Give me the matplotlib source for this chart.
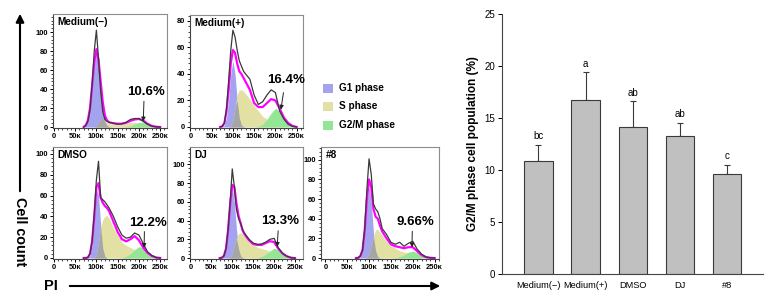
import numpy as np
import matplotlib
matplotlib.use('Agg')
import matplotlib.pyplot as plt
from matplotlib.ticker import MultipleLocator
from matplotlib.patches import FancyArrowPatch, Rectangle

plt.rcParams['font.family'] = ['Liberation Sans', 'DejaVu Sans']

# PI channel grid (x1000)
xs = [70, 75, 80, 85, 90, 95, 100, 105, 110, 115, 120, 125, 130,
      140, 150, 160, 170, 180, 190, 200, 210, 220, 230, 240, 250]

# Medium(-)
g1_med_neg = [0, 1.7, 6.9, 20, 44, 69, 81, 69, 44, 20, 6.9, 1.7, 0.3, 0, 0, 0, 0, 0, 0, 0, 0, 0, 0, 0, 0]
s_med_neg = [0, 0, 0, 0, 0, 0, 1, 5, 9, 9, 6, 4.5, 3.5, 3, 3, 3, 4, 5, 5, 4, 2, 0.5, 0, 0, 0]
g2_med_neg = [0, 0, 0, 0, 0, 0, 0, 0, 0, 0, 0, 0, 0, 0, 0, 0, 0.3, 1, 3, 5, 5, 3, 1, 0.2, 0]
fit_med_neg = [0, 2, 7, 20, 44, 69, 82, 71, 48, 26, 12, 7, 5, 4, 3.5, 3.5, 4.5, 6.5, 8, 8.5, 7, 3.5, 1.2, 0.3, 0]
raw_med_neg = [0, 1.5, 6, 18, 45, 80, 102, 72, 38, 16, 8, 6, 5, 4, 3, 3.5, 5, 8, 9, 9, 6, 3, 1, 0.3, 0]

# Medium(+)
g1_med_pos = [0, 0.2, 1.5, 7, 20, 40, 50, 40, 20, 7, 1.5, 0.2, 0, 0, 0, 0, 0, 0, 0, 0, 0, 0, 0, 0, 0]
s_med_pos = [0, 0, 0, 0, 0, 1, 5, 15, 24, 28, 28, 27, 25, 21, 16, 12, 8, 6, 4.5, 3, 1, 0, 0, 0, 0]
g2_med_pos = [0, 0, 0, 0, 0, 0, 0, 0, 0, 0, 0, 0, 0, 0, 0, 0.5, 2, 5.5, 10.5, 14, 12, 6.5, 2.5, 0.6, 0]
fit_med_pos = [0, 0.5, 3, 12, 28, 48, 58, 56, 48, 42, 40, 37, 34, 28, 18, 15, 15, 18, 21, 20, 14, 7, 3, 0.8, 0]
raw_med_pos = [0, 0.5, 3, 14, 35, 58, 73, 68, 58, 50, 46, 42, 40, 36, 24, 17, 19, 24, 28, 26, 12, 6, 2, 0.5, 0]

# DMSO
g1_dmso = [0, 0, 0.2, 2.2, 12.4, 38, 65, 61, 32, 9.2, 1.5, 0, 0, 0, 0, 0, 0, 0, 0, 0, 0, 0, 0, 0, 0]
s_dmso = [0, 0, 0, 0, 0, 0, 3, 15, 30, 37, 40, 41, 38, 29, 22, 15, 12, 10, 8, 6, 3, 1, 0, 0, 0]
g2_dmso = [0, 0, 0, 0, 0, 0, 0, 0, 0, 0, 0, 0, 0, 0, 0, 0.3, 1.5, 4, 8, 11, 9.5, 5, 2, 0.4, 0]
fit_dmso = [0, 0, 0.5, 4, 16, 40, 68, 72, 58, 53, 50, 48, 45, 35, 25, 18, 16, 18, 21, 17, 10, 5, 2, 0.4, 0]
raw_dmso = [0, 0, 0.5, 4, 16, 42, 75, 93, 58, 56, 54, 51, 48, 40, 30, 22, 19, 20, 24, 22, 14, 6, 2.5, 0.5, 0]

# DJ
g1_dj = [0, 0.3, 2.2, 10, 31, 60, 75, 60, 31, 10, 2.2, 0.3, 0, 0, 0, 0, 0, 0, 0, 0, 0, 0, 0, 0, 0]
s_dj = [0, 0, 0, 0, 0, 0.5, 5, 14, 21, 26, 27, 26, 24, 20, 15, 11.5, 10, 9, 7, 5, 2, 0.5, 0, 0, 0]
g2_dj = [0, 0, 0, 0, 0, 0, 0, 0, 0, 0, 0, 0, 0, 0, 0, 0.3, 1.5, 4, 7.5, 10.5, 9, 5, 2, 0.4, 0]
fit_dj = [0, 0.4, 2.5, 10, 30, 58, 78, 76, 58, 45, 37, 29, 25, 19, 15, 14, 14, 16, 18, 17, 10, 5, 2, 0.4, 0]
raw_dj = [0, 0.3, 2, 10, 30, 60, 95, 76, 52, 42, 37, 30, 26, 20, 16, 14.5, 15, 17, 20, 21, 11, 5, 2, 0.5, 0]

# #8
g1_n8 = [0, 0.1, 1.2, 7.4, 26, 57, 73, 57, 26, 7.4, 1.2, 0.1, 0, 0, 0, 0, 0, 0, 0, 0, 0, 0, 0, 0, 0]
s_n8 = [0, 0, 0, 0, 0, 0.5, 5, 14, 22, 29, 29, 26, 23, 17, 13, 10, 7.5, 6, 5.5, 4, 1.5, 0, 0, 0, 0]
g2_n8 = [0, 0, 0, 0, 0, 0, 0, 0, 0, 0, 0, 0, 0, 0, 0, 0.3, 1.2, 3, 5.8, 7, 5.5, 2.5, 0.8, 0.2, 0]
fit_n8 = [0, 0.2, 2, 8, 28, 60, 80, 72, 50, 42, 40, 33, 27, 20, 14, 12, 11, 10, 11, 11, 7, 3, 1, 0.2, 0]
raw_n8 = [0, 0.2, 2, 8, 30, 70, 101, 85, 55, 50, 47, 40, 30, 24, 16, 14, 16, 12, 15, 17, 9, 4, 1, 0.3, 0]

panel_names = ['Medium(\u2212)', 'Medium(+)', 'DMSO', 'DJ', '#8']
g2m_labels = ['10.6%', '16.4%', '12.2%', '13.3%', '9.66%']

# bar chart
groups = ['Medium(\u2212)', 'Medium(+)', 'DMSO', 'DJ', '#8']
means = [10.9, 16.7, 14.1, 13.3, 9.6]
errs = [1.5, 2.7, 2.5, 1.25, 0.9]
letters = ['bc', 'a', 'ab', 'ab', 'c']

W, H = 772, 304
fig = plt.figure(figsize=(W / 100, H / 100), dpi=100)


def px_axes(l, t, r, b):
    return fig.add_axes([l / W, 1 - b / H, (r - l) / W, (b - t) / H])


def fpt(x, y):
    return (x / W, 1 - y / H)


panels = [
    (g1_med_neg, s_med_neg, g2_med_neg, fit_med_neg, raw_med_neg),
    (g1_med_pos, s_med_pos, g2_med_pos, fit_med_pos, raw_med_pos),
    (g1_dmso, s_dmso, g2_dmso, fit_dmso, raw_dmso),
    (g1_dj, s_dj, g2_dj, fit_dj, raw_dj),
    (g1_n8, s_n8, g2_n8, fit_n8, raw_n8),
]

# layout: axes rect in pixels, xlim, ylim, y max tick, text pos, arrow tail, arrow head
layout = [
    ((53, 14, 167, 128), (-2, 266), (-1, 119), 100, (217, 37), (212, 30), (210, 3)),
    ((190, 15, 303, 128), (-1, 265), (-0.8, 84.5), 80, (224, 35.5), (220, 28), (212, 11)),
    ((53, 147, 167, 259), (-2, 266), (-1, 106.7), 100, (222, 34), (213, 28), (212, 7)),
    ((190, 147, 303, 259), (-1, 269), (-1, 118.4), 100, (214, 39), (210, 32), (207, 9)),
    ((321, 147, 439, 259), (-10, 260), (-1, 113), 100, (207, 37), (199, 30), (198, 8)),
]

c_g1 = '#a3a3f0'
c_s = '#e3e0a4'
c_g2 = '#93e693'
c_ov = '#a6a6a6'

x = np.array(xs)
for (g1, s, g2, fit, raw), lay, name, lab in zip(panels, layout, panel_names, g2m_labels):
    rect, xl, yl, ymax, tpos, tail, head = lay
    ax = px_axes(*rect)
    g1 = np.array(g1)
    s = np.array(s)
    ax.fill_between(x, 0, g1, color=c_g1, lw=0)
    ax.fill_between(x, 0, s, color=c_s, lw=0)
    ax.fill_between(x, 0, np.minimum(g1, s), color=c_ov, lw=0)
    ax.fill_between(x, 0, g2, color=c_g2, lw=0)
    ax.plot(x, fit, color='#ff00ff', lw=1.6)
    ax.plot(x, raw, color='#3a3a3a', lw=0.9)
    ax.set_xlim(*xl)
    ax.set_ylim(*yl)
    ax.set_xticks([0, 50, 100, 150, 200, 250])
    ax.set_xticklabels(['0', '50\u1d0b', '100\u1d0b', '150\u1d0b', '200\u1d0b', '250\u1d0b'])
    ax.set_yticks(np.arange(0, ymax + 1, 20))
    ax.xaxis.set_minor_locator(MultipleLocator(10))
    ax.yaxis.set_minor_locator(MultipleLocator(4))
    ax.tick_params(which='major', length=2.5, width=0.7, pad=1, labelsize=5.4)
    ax.tick_params(which='minor', length=1.5, width=0.5)
    for t in ax.get_xticklabels() + ax.get_yticklabels():
        t.set_fontweight('bold')
    for sp in ax.spines.values():
        sp.set_color('#8c8c8c')
        sp.set_linewidth(0.8)
    ax.spines['bottom'].set_color('#444444')
    ax.spines['left'].set_color('#444444')
    ax.text(0.04, 0.9, name, transform=ax.transAxes, fontsize=7.2, fontweight='bold')
    ax.text(tpos[0], tpos[1], lab, fontsize=9.5, fontweight='bold', ha='center', va='center')
    ax.annotate('', xy=head, xytext=tail,
                arrowprops=dict(arrowstyle='-|>', lw=0.7, color='#222222', mutation_scale=6))

# legend
leg_items = [('G1 phase', c_g1), ('S phase', c_s), ('G2/M phase', c_g2)]
for (txt, col), yy in zip(leg_items, [88, 106, 125]):
    fig.add_artist(Rectangle(fpt(323, yy + 4.5), 10 / W, 9 / H, transform=fig.transFigure,
                             color=col, lw=0))
    fig.text(*fpt(339, yy), txt, fontsize=7.2, fontweight='bold', va='center')

# axis arrows
fig.add_artist(FancyArrowPatch(fpt(20, 194), fpt(20, 11), transform=fig.transFigure,
                               arrowstyle='-|>', mutation_scale=12, lw=1.5, color='black'))
fig.add_artist(FancyArrowPatch(fpt(67, 286), fpt(443, 286), transform=fig.transFigure,
                               arrowstyle='-|>', mutation_scale=12, lw=1.5, color='black'))
fig.text(*fpt(20, 232), 'Cell count', rotation=-90, fontsize=10.4, fontweight='bold',
         ha='center', va='center')
fig.text(*fpt(51, 286), 'PI', fontsize=10.5, fontweight='bold', ha='center', va='center')

# bar chart
bx = px_axes(502, 14, 763, 274)
pos = np.arange(len(groups))
bx.bar(pos, means, width=0.6, color='#c0c0c0', edgecolor='#3a3a3a', lw=0.8, zorder=2)
bx.errorbar(pos, means, yerr=[np.zeros(len(errs)), errs], fmt='none', ecolor='#3a3a3a',
            elinewidth=0.8, capsize=2, capthick=0.8, zorder=1)
for p, m, e, l in zip(pos, means, errs, letters):
    bx.text(p, m + e + 0.35, l, ha='center', va='bottom', fontsize=7)
bx.set_xlim(-0.77, 4.76)
bx.set_ylim(0, 25)
bx.set_yticks(np.arange(0, 26, 5))
bx.set_xticks(pos)
bx.set_xticklabels(groups)
bx.tick_params(axis='x', length=0, labelsize=6.7, pad=5)
bx.tick_params(axis='y', length=3, width=0.7, labelsize=7, pad=2)
bx.spines['top'].set_visible(False)
bx.spines['right'].set_visible(False)
bx.spines['left'].set_color('#444444')
bx.spines['bottom'].set_color('#444444')
bx.set_ylabel('G2/M phase cell population (%)', fontsize=8.5, fontweight='bold', labelpad=4)

fig.savefig('out.png', dpi=100)
